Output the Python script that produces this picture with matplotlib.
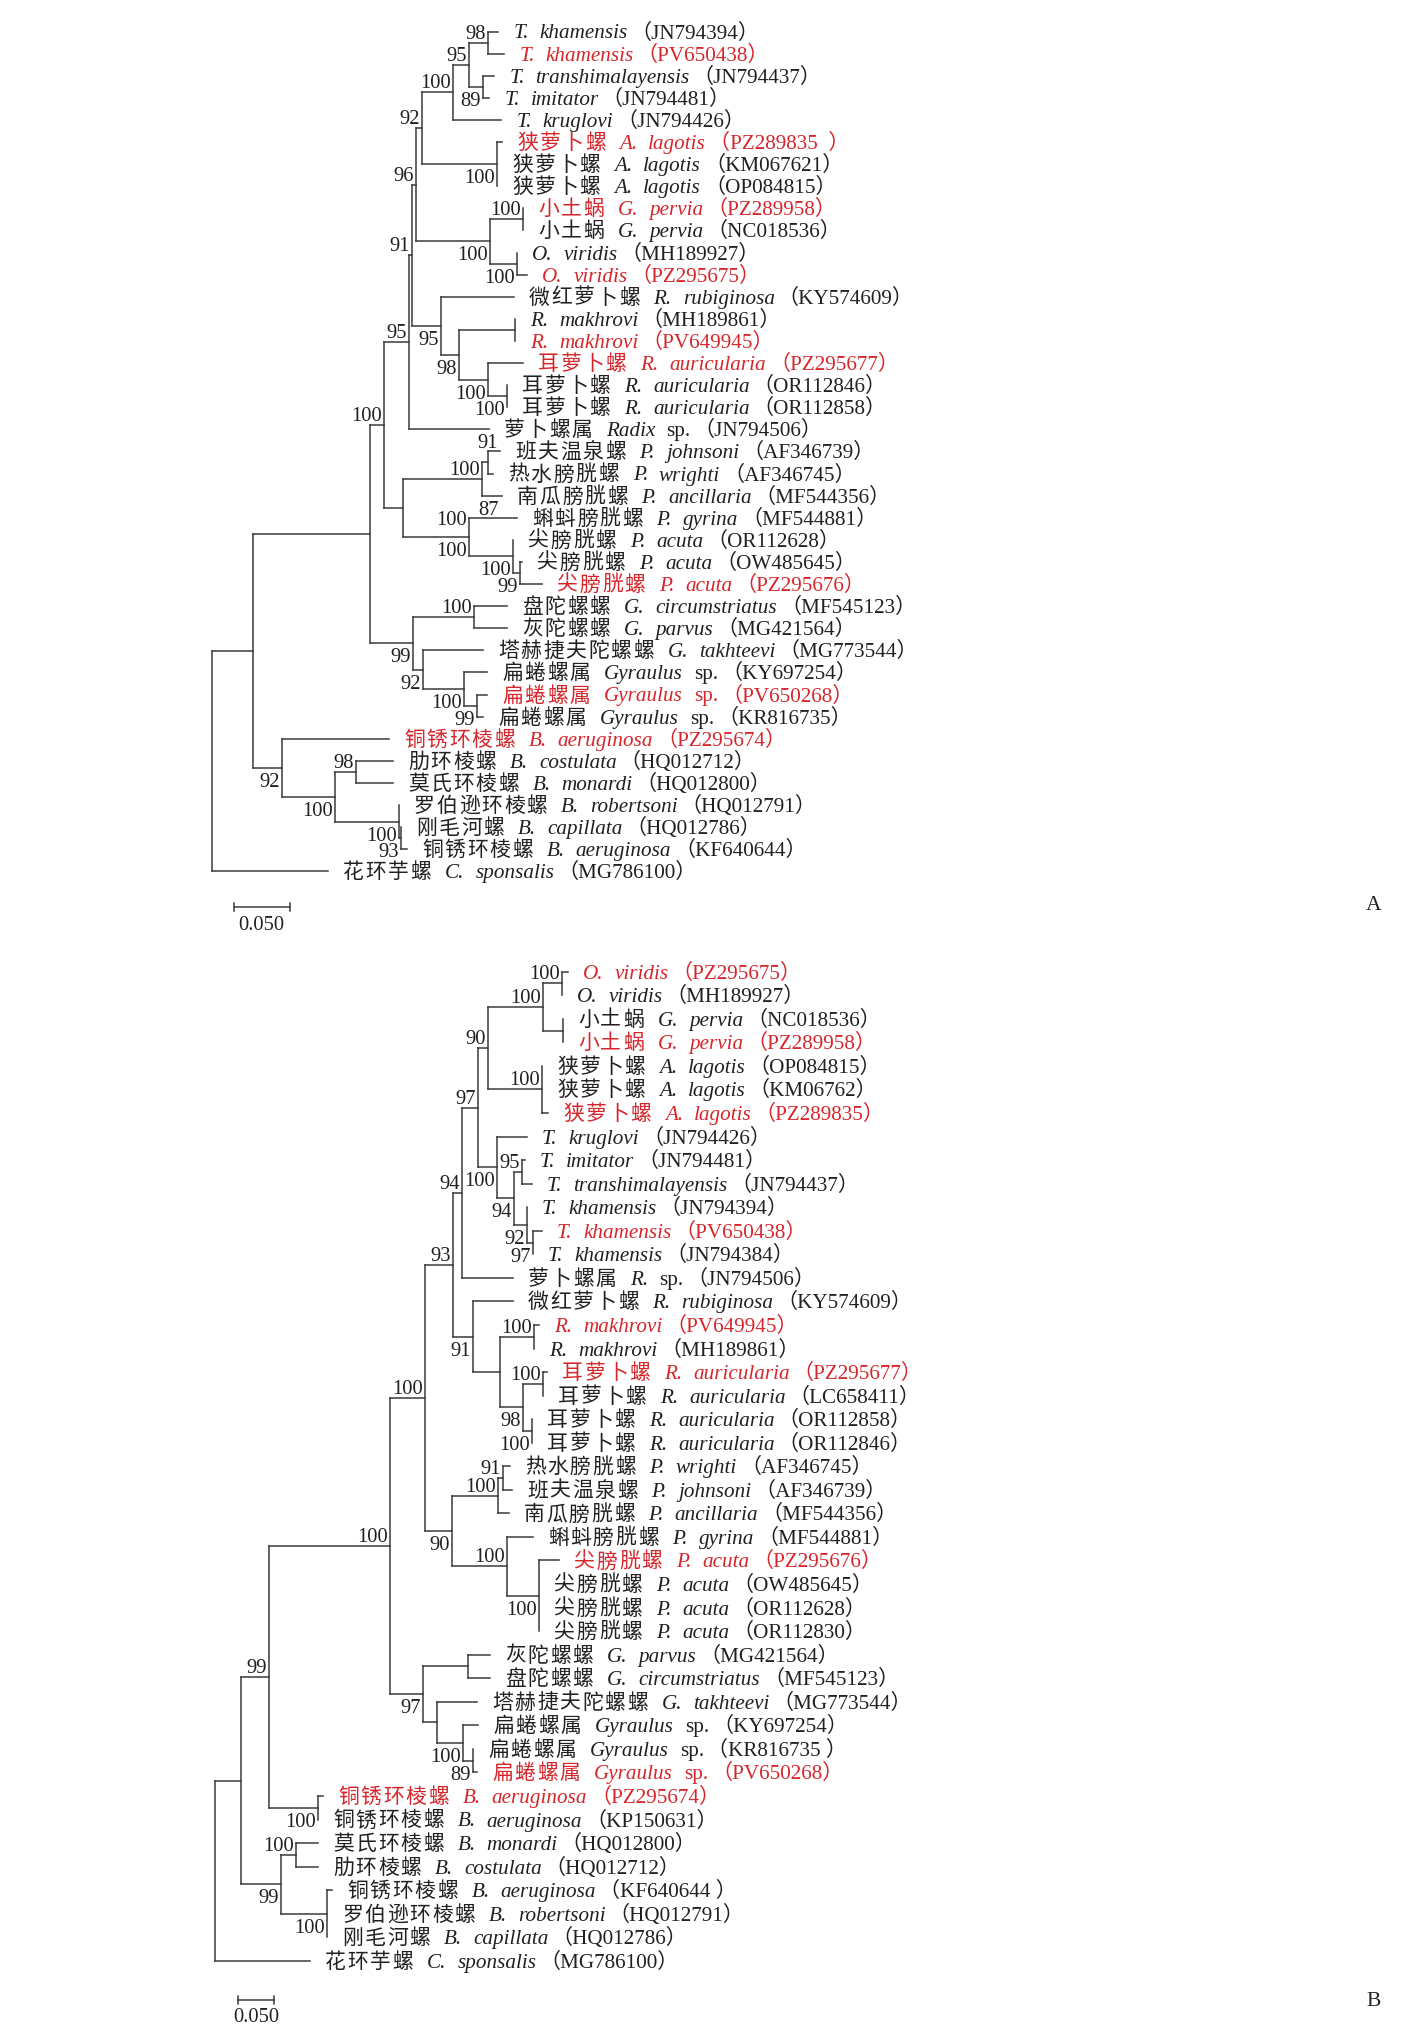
import matplotlib
matplotlib.use('Agg')
import matplotlib.pyplot as plt
from matplotlib.font_manager import FontProperties

# ---------------- data: panel A ----------------
cn_a = ['', '', '', '', '', '狭萝卜螺', '狭萝卜螺', '狭萝卜螺', '小土蜗', '小土蜗',
        '', '', '微红萝卜螺', '', '', '耳萝卜螺', '耳萝卜螺', '耳萝卜螺', '萝卜螺属',
        '班夫温泉螺', '热水膀胱螺', '南瓜膀胱螺', '蝌蚪膀胱螺', '尖膀胱螺', '尖膀胱螺',
        '尖膀胱螺', '盘陀螺螺', '灰陀螺螺', '塔赫捷夫陀螺螺', '扁蜷螺属', '扁蜷螺属',
        '扁蜷螺属', '铜锈环棱螺', '肋环棱螺', '莫氏环棱螺', '罗伯逊环棱螺', '刚毛河螺',
        '铜锈环棱螺', '花环芋螺']
sp_a = ['T. khamensis', 'T. khamensis', 'T. transhimalayensis', 'T. imitator',
        'T. kruglovi', 'A. lagotis', 'A. lagotis', 'A. lagotis', 'G. pervia',
        'G. pervia', 'O. viridis', 'O. viridis', 'R. rubiginosa', 'R. makhrovi',
        'R. makhrovi', 'R. auricularia', 'R. auricularia', 'R. auricularia',
        'Radix sp.', 'P. johnsoni', 'P. wrighti', 'P. ancillaria', 'P. gyrina',
        'P. acuta', 'P. acuta', 'P. acuta', 'G. circumstriatus', 'G. parvus',
        'G. takhteevi', 'Gyraulus sp.', 'Gyraulus sp.', 'Gyraulus sp.',
        'B. aeruginosa', 'B. costulata', 'B. monardi', 'B. robertsoni',
        'B. capillata', 'B. aeruginosa', 'C. sponsalis']
acc_a = ['JN794394', 'PV650438', 'JN794437', 'JN794481', 'JN794426', 'PZ289835  ',
         'KM067621', 'OP084815', 'PZ289958', 'NC018536', 'MH189927', 'PZ295675',
         'KY574609', 'MH189861', 'PV649945', 'PZ295677', 'OR112846', 'OR112858',
         'JN794506', 'AF346739', 'AF346745', 'MF544356', 'MF544881', 'OR112628',
         'OW485645', 'PZ295676', 'MF545123', 'MG421564', 'MG773544', 'KY697254',
         'PV650268', 'KR816735', 'PZ295674', 'HQ012712', 'HQ012800', 'HQ012791',
         'HQ012786', 'KF640644', 'MG786100']
new_a = [0, 1, 0, 0, 0, 1, 0, 0, 1, 0, 0, 1, 0, 0, 1, 1, 0, 0, 0, 0, 0, 0, 0, 0, 0,
         1, 0, 0, 0, 0, 1, 0, 1, 0, 0, 0, 0, 0, 0]

# newick pieces for tree A (tip numbers = order above, bootstrap, branch length)
a_thermo = '(((1:0.0089,2:0.0143)98:0.0170,(3:0.0098,4:0.0054)89:0.0125)95:0.0143,5:0.0429)100:0.0277'
a_lagot = '(6:0.0045,7:0,8:0)100:0.0670'
a_galba = '((9:0,10:0)100:0.0295,(11:0,12:0.0089)100:0.0241)100:0.0661'
a_radix = ('(13:0.0652,((14:0,15:0):0.0500,(16:0.0313,(17:0,18:0)100:0.0170)100:0.0259)98:0.0161)'
           '95:0.0259')
a_physa = ('(((20:0.0107,21:0.0045)91:0.0054,22:0.0179)100:0.0705,'
           '(23:0.0429,(24:0,(25:0.0018,26:0.0196)99:0.0063)100:0.0393)100:0.0589):0.0170')
a_plano = ('((27:0.0295,28:0.0295)100:0.0545,(29:0.0536,(30:0.0205,(31:0.0089,32:0.0054)99:0.0116)'
           '100:0.0366)92:0.0089)99:0.0384')
a_bella = ('(33:0.0955,((34:0.0330,35:0.0330)98:0.0188,(36:0,(37:0,38:0.0054)93:0.0018)100:0.0571)'
           '100:0.0473)92:0.0259')
tree_a = ('((((((((' + a_thermo + ',' + a_lagot + ')92:0.0054,' + a_galba + ')96:0.0036,'
          + a_radix + ')91:0.0027,19:0.0714)95:0.0223,' + a_physa + ')100:0.0125,'
          + a_plano + '):0.1045,' + a_bella + '):0.0366,39:0.1036);')

# ---------------- data: panel B ----------------
cn_b = ['', '', '小土蜗', '小土蜗', '狭萝卜螺', '狭萝卜螺', '狭萝卜螺', '', '', '', '', '',
        '', '萝卜螺属', '微红萝卜螺', '', '', '耳萝卜螺', '耳萝卜螺', '耳萝卜螺', '耳萝卜螺',
        '热水膀胱螺', '班夫温泉螺', '南瓜膀胱螺', '蝌蚪膀胱螺', '尖膀胱螺', '尖膀胱螺',
        '尖膀胱螺', '尖膀胱螺', '灰陀螺螺', '盘陀螺螺', '塔赫捷夫陀螺螺', '扁蜷螺属',
        '扁蜷螺属', '扁蜷螺属', '铜锈环棱螺', '铜锈环棱螺', '莫氏环棱螺', '肋环棱螺',
        '铜锈环棱螺', '罗伯逊环棱螺', '刚毛河螺', '花环芋螺']
sp_b = ['O. viridis', 'O. viridis', 'G. pervia', 'G. pervia', 'A. lagotis', 'A. lagotis',
        'A. lagotis', 'T. kruglovi', 'T. imitator', 'T. transhimalayensis',
        'T. khamensis', 'T. khamensis', 'T. khamensis', 'R. sp.', 'R. rubiginosa',
        'R. makhrovi', 'R. makhrovi', 'R. auricularia', 'R. auricularia',
        'R. auricularia', 'R. auricularia', 'P. wrighti', 'P. johnsoni',
        'P. ancillaria', 'P. gyrina', 'P. acuta', 'P. acuta', 'P. acuta', 'P. acuta',
        'G. parvus', 'G. circumstriatus', 'G. takhteevi', 'Gyraulus sp.',
        'Gyraulus sp.', 'Gyraulus sp.', 'B. aeruginosa', 'B. aeruginosa', 'B. monardi',
        'B. costulata', 'B. aeruginosa', 'B. robertsoni', 'B. capillata', 'C. sponsalis']
acc_b = ['PZ295675', 'MH189927', 'NC018536', 'PZ289958', 'OP084815', 'KM06762',
         'PZ289835', 'JN794426', 'JN794481', 'JN794437', 'JN794394', 'PV650438',
         'JN794384', 'JN794506', 'KY574609', 'PV649945', 'MH189861', 'PZ295677',
         'LC658411', 'OR112858', 'OR112846', 'AF346745', 'AF346739', 'MF544356',
         'MF544881', 'PZ295676', 'OW485645', 'OR112628', 'OR112830', 'MG421564',
         'MF545123', 'MG773544', 'KY697254', 'KR816735 ', 'PV650268', 'PZ295674',
         'KP150631', 'HQ012800', 'HQ012712', 'KF640644 ', 'HQ012791', 'HQ012786',
         'MG786100']
new_b = [1, 0, 0, 1, 0, 0, 1, 0, 0, 0, 0, 1, 0, 0, 0, 1, 0, 1, 0, 0, 0, 0, 0, 0, 0, 1,
         0, 0, 0, 0, 0, 0, 0, 0, 1, 1, 0, 0, 0, 0, 0, 0, 0]

b_galba = '((1:0.0084,2:0)100:0.0266,(3:0,4:0):0.0280)100:0.0770'
b_lagot = '(5:0,6:0,7:0.0084)100:0.0756'
b_thermo = ('(8:0.0420,((9:0.0042,10:0.0140)95:0.0112,(11:0,(12:0.0126,13:0)97:0.0084)92:0.0182)'
            '94:0.0238)100:0.0266')
b_radix = ('(15:0.0560,((16:0.0070,17:0)100:0.0476,((18:0.0056,19:0)100:0.0280,(20:0,21:0)100:0.0126)'
           '98:0.0322):0.0378)91:0.0280')
b_physa = ('(((22:0.0098,23:0.0126)91:0.0070,24:0.0154)100:0.0644,'
           '(25:0.0364,(26:0.0280,27:0,28:0,29:0)100:0.0448)100:0.0770)90:0.0378')
b_plano = ('((30:0.0308,31:0.0308):0.0630,(32:0.0560,(33:0.0210,(34:0,35:0.0056)89:0.0140)100:0.0364)'
           ':0.0196)97:0.0462')
b_bella = '((38:0.0308,39:0.0308)100:0.0210,(40:0.0070,41:0,42:0)100:0.0644)99:0.0560'
tree_b = ('(((((((((' + b_galba + ',' + b_lagot + ')90:0.0140,' + b_thermo + ')97:0.0224,'
          '14:0.0714)94:0.0126,' + b_radix + ')93:0.0392,' + b_physa + ')100:0.0490,'
          + b_plano + ')100:0.1695,(36:0.0070,37:0)100:0.0686)99:0.0392,' + b_bella
          + '):0.0364,43:0.1331);')

# bootstrap labels drawn under the branch instead of above (keyed by tip range)
below_a = {(3, 4), (6, 8), (9, 12), (11, 12), (13, 18), (14, 18), (16, 18), (17, 18),
           (23, 26), (24, 26), (25, 26), (27, 32), (29, 32), (30, 32), (31, 32),
           (33, 38), (34, 38), (36, 38), (37, 38)}
below_b = {(8, 13), (9, 13), (11, 13), (12, 13), (15, 21), (18, 21), (20, 21), (22, 29),
           (26, 29), (30, 35), (33, 35), (34, 35), (36, 37), (38, 42), (40, 42)}
# labels placed in odd spots in the original
moved_a = {(20, 21): 'tc'}
extra_a = {(23, 26): [('100', 'tl'), ('87', 'tr')]}


def parse_newick(s):
    s = ''.join(s.split())
    pos = 0

    def read_node():
        nonlocal pos
        kids = []
        if s[pos] == '(':
            pos += 1
            kids.append(read_node())
            while s[pos] == ',':
                pos += 1
                kids.append(read_node())
            pos += 1
        start = pos
        while s[pos] not in ':,);':
            pos += 1
        name = s[start:pos]
        length = 0.0
        if s[pos] == ':':
            pos += 1
            start = pos
            while s[pos] not in ',);':
                pos += 1
            length = float(s[start:pos])
        return {'name': name, 'len': length, 'kids': kids}

    return read_node()


def layout(node, x, scale, y0, dy):
    node['x'] = x
    if not node['kids']:
        i = int(node['name'])
        node['y'] = y0 + (i - 1) * dy
        node['lo'] = node['hi'] = i
        return
    for k in node['kids']:
        layout(k, x + k['len'] * scale, scale, y0, dy)
    node['y'] = (node['kids'][0]['y'] + node['kids'][-1]['y']) / 2
    node['lo'] = min(k['lo'] for k in node['kids'])
    node['hi'] = max(k['hi'] for k in node['kids'])


W, H = 1401, 2028
fig = plt.figure(figsize=(W / 100, H / 100), dpi=100)
ax = fig.add_axes([0, 0, 1, 1])
ax.set_xlim(0, W)
ax.set_ylim(H, 0)
ax.axis('off')
renderer = fig.canvas.get_renderer()

LINE = '#3a3a3a'
TXT = '#231f20'
RED = '#d7262b'
FS = 15.2
LW = 1.1
f_cjk = FontProperties(family='Noto Sans CJK SC', size=15.0)
f_it = FontProperties(family='Liberation Serif', style='italic', size=FS)
f_rm = FontProperties(family='Liberation Serif', size=FS)
f_num = FontProperties(family='Liberation Serif', size=14.8)
mixed = ['Liberation Serif', 'Noto Sans CJK SC']


def tip_label(x, y, cn, sp, acc, red):
    c = RED if red else TXT
    yb = y + 7
    cur = x
    if cn:
        for ch in cn:
            ax.text(cur, yb, ch, fontproperties=f_cjk, color=c, va='baseline')
            cur += 22.5
        cur += 12
    words = sp.split()
    for i, w in enumerate(words):
        t = ax.text(cur, yb, w, fontproperties=f_rm if w == 'sp.' else f_it,
                    color=c, va='baseline')
        cur += t.get_window_extent(renderer).width
        if i < len(words) - 1:
            cur += 11
    ax.text(cur + 3, yb, '（' + acc + '）', family=mixed, fontsize=FS, color=c,
            va='baseline')


def node_text(node, txt, where):
    x, y = node['x'], node['y']
    ytop = node['kids'][0]['y']
    kw = dict(fontproperties=f_num, color=TXT, va='baseline')
    if where == 'a':
        ax.text(x - 2, y - 4, txt, ha='right', **kw)
    elif where == 'b':
        ax.text(x - 2, y + 19, txt, ha='right', **kw)
    elif where == 'tc':
        ax.text(x, ytop - 3, txt, ha='center', **kw)
    elif where == 'tl':
        ax.text(x - 2, ytop + 7, txt, ha='right', **kw)
    elif where == 'tr':
        ax.text(x + 19, ytop - 3, txt, ha='center', **kw)


def draw_tree(node, cn, sp, acc, new, below, moved, extra):
    kids = node['kids']
    if not kids:
        i = int(node['name']) - 1
        tip_label(node['x'] + 15, node['y'], cn[i], sp[i], acc[i], new[i])
        return
    ax.plot([node['x'], node['x']], [kids[0]['y'], kids[-1]['y']], color=LINE, lw=LW,
            solid_capstyle='projecting')
    for k in kids:
        if k['x'] - node['x'] > 0.5:
            ax.plot([node['x'], k['x']], [k['y'], k['y']], color=LINE, lw=LW,
                    solid_capstyle='projecting')
        draw_tree(k, cn, sp, acc, new, below, moved, extra)
    key = (node['lo'], node['hi'])
    if node['name']:
        where = moved.get(key, 'b' if key in below else 'a')
        node_text(node, node['name'], where)
    for txt, where in extra.get(key, []):
        node_text(node, txt, where)


def scale_bar(x0, y, px_per_unit):
    L = 0.05 * px_per_unit
    ax.plot([x0, x0 + L], [y, y], color=LINE, lw=LW)
    ax.plot([x0, x0], [y - 4, y + 4], color=LINE, lw=LW)
    ax.plot([x0 + L, x0 + L], [y - 4, y + 4], color=LINE, lw=LW)
    ax.text(x0 + L / 2, y + 18, '0.050', fontproperties=f_num, color=TXT,
            ha='center', va='center')


# panel A
root_a = parse_newick(tree_a)
layout(root_a, 212, 1120, 31.5, 22.1)
draw_tree(root_a, cn_a, sp_a, acc_a, new_a, below_a, moved_a, extra_a)
scale_bar(233.5, 907, 1120)
ax.text(1374, 906, 'A', fontproperties=FontProperties(family='Liberation Serif', size=15.5),
        color=TXT, ha='center', va='center')

# panel B
root_b = parse_newick(tree_b)
layout(root_b, 215, 714, 971.7, 23.55)
draw_tree(root_b, cn_b, sp_b, acc_b, new_b, below_b, {}, {})
scale_bar(238.3, 2000, 714)
ax.text(1374, 2001, 'B', fontproperties=FontProperties(family='Liberation Serif', size=15.5),
        color=TXT, ha='center', va='center')

fig.savefig('out.png', dpi=100, facecolor='white')
